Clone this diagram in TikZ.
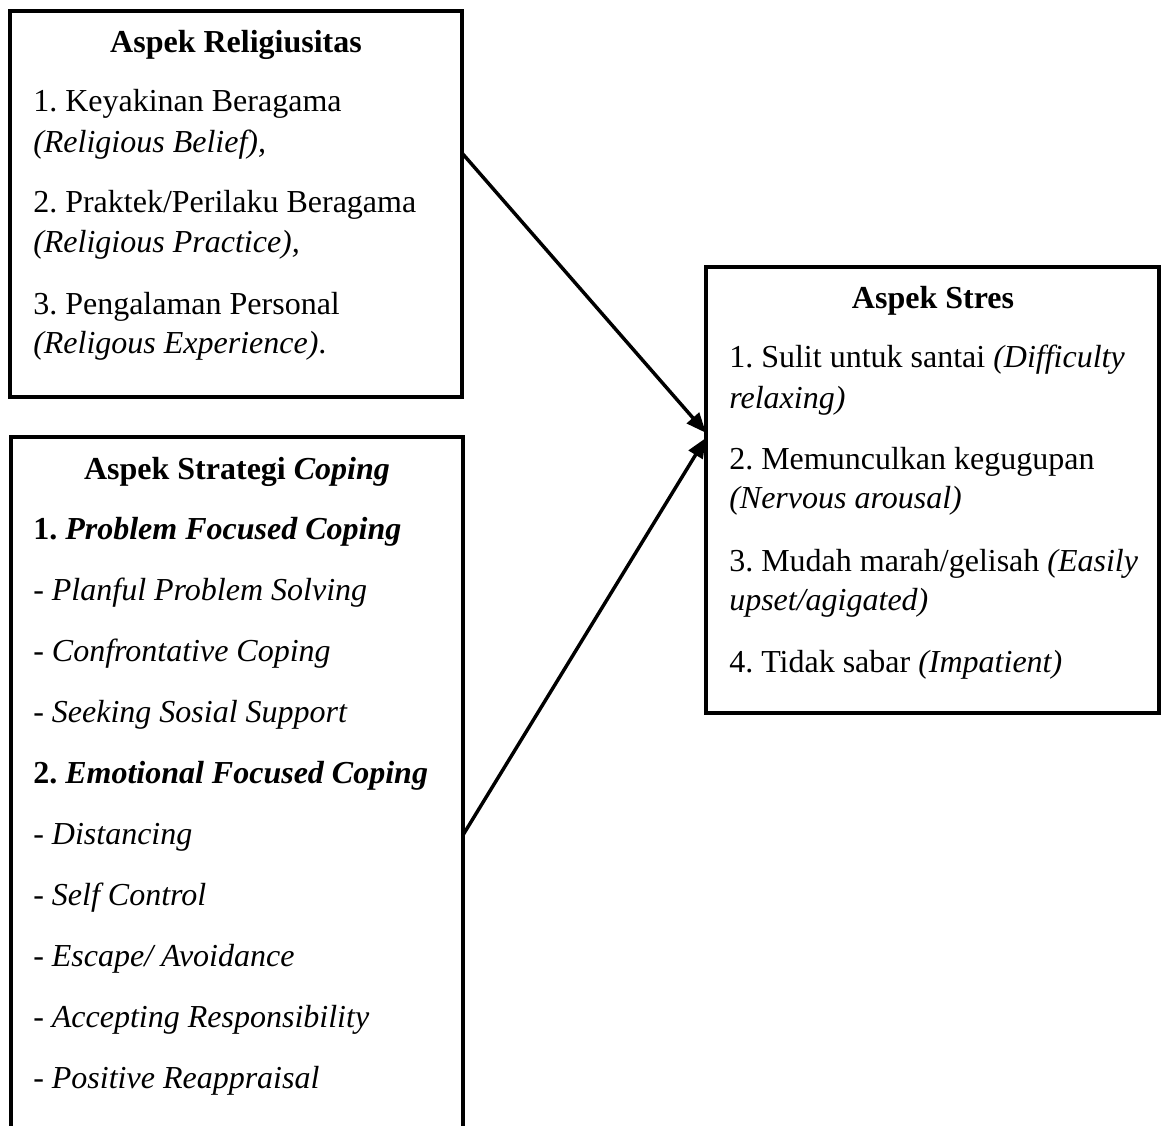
\documentclass[tikz,border=0pt]{standalone}
\usepackage{fontspec}
\setmainfont{Liberation Serif}
\usetikzlibrary{arrows.meta,calc}
\frenchspacing
\begin{document}
\begin{tikzpicture}[x=0.75pt,y=-0.75pt,
  box/.style={draw, line width=2.3pt, inner sep=0pt, outer sep=0pt, anchor=north west},
  txt/.style={anchor=base west, inner sep=0pt, font=\fontsize{24pt}{30pt}\selectfont},
  ttl/.style={anchor=base, inner sep=0pt, font=\fontsize{24pt}{30pt}\selectfont\bfseries},
  conn/.style={line width=2.6pt, -{Triangle[length=15pt,width=12pt]}}]

\useasboundingbox (0,0) rectangle (1166,1126);

% boxes
\node[box, minimum width=452*0.75pt, minimum height=386*0.75pt] (rel) at (10,11) {};
\node[box, minimum width=453*0.75pt, minimum height=446*0.75pt] (str) at (706,267) {};
\begin{scope}
  \clip (0,0) rectangle (1166,1126);
  \node[box, minimum width=452*0.75pt, minimum height=800*0.75pt] (cop) at (11,437) {};
\end{scope}

% Aspek Religiusitas
\node[ttl] (relT) at (236,53) {Aspek Religiusitas};
\node[txt] (r1a) at (33,112) {1. Keyakinan Beragama};
\node[txt] (r1b) at (33,153) {\textit{(Religious Belief),}};
\node[txt] (r2a) at (33,213) {2. Praktek/Perilaku Beragama};
\node[txt] (r2b) at (33,253) {\textit{(Religious Practice),}};
\node[txt] (r3a) at (33,315) {3. Pengalaman Personal};
\node[txt] (r3b) at (33,354) {\textit{(Religous Experience)}.};

% Aspek Strategi Coping
\node[ttl] (copT) at (237,479) {Aspek Strategi \textit{Coping}};
\node[txt] (c1) at (33,539) {\textbf{1. \textit{Problem Focused Coping}}};
\node[txt] (c2) at (33,600) {\textit{- Planful Problem Solving}};
\node[txt] (c3) at (33,661) {\textit{- Confrontative Coping}};
\node[txt] (c4) at (33,722) {\textit{- Seeking Sosial Support}};
\node[txt] (c5) at (33,783) {\textbf{2. \textit{Emotional Focused Coping}}};
\node[txt] (c6) at (33,844) {\textit{- Distancing}};
\node[txt] (c7) at (33,905) {\textit{- Self Control}};
\node[txt] (c8) at (33,966) {\textit{- Escape/ Avoidance}};
\node[txt] (c9) at (33,1027) {\textit{- Accepting Responsibility}};
\node[txt] (c10) at (33,1088) {\textit{- Positive Reappraisal}};

% Aspek Stres
\node[ttl] (strT) at (933,309) {Aspek Stres};
\node[txt] (s1a) at (729,368) {1. Sulit untuk santai \textit{(Difficulty}};
\node[txt] (s1b) at (729,408) {\textit{relaxing)}};
\node[txt] (s2a) at (729,469) {2. Memunculkan kegugupan};
\node[txt] (s2b) at (729,508) {\textit{(Nervous arousal)}};
\node[txt] (s3a) at (729,571) {3. Mudah marah/gelisah \textit{(Easily}};
\node[txt] (s3b) at (729,610) {\textit{upset/agigated)}};
\node[txt] (s4a) at (729,672) {4. Tidak sabar \textit{(Impatient)}};

% connectors
\coordinate (from1) at ($(rel.north east)!0.368!(rel.south east)$);
\coordinate (from2) at ($(cop.north east)+(0,398)$);
\coordinate (to1) at ($(str.north west)!0.372!(str.south west)$);
\coordinate (to2) at ($(str.north west)!0.383!(str.south west)$);
\draw[conn] (from1) -- (to1);
\draw[conn] (from2) -- (to2);
\end{tikzpicture}
\end{document}
